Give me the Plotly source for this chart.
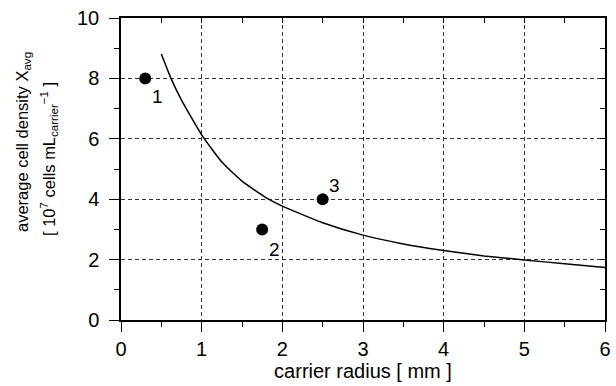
import plotly.graph_objects as go

# model curve
curve_x = [0.5, 0.62, 0.75, 1.0, 1.25, 1.5, 1.83, 2.0, 2.5, 3.0, 3.5, 4.0, 4.5, 5.0, 5.5, 6.0]
curve_y = [8.81, 8.0, 7.28, 6.13, 5.23, 4.60, 4.0, 3.77, 3.22, 2.81, 2.52, 2.30, 2.12, 1.99, 1.86, 1.74]

# experimental points
pt_x = [0.3, 1.75, 2.5]
pt_y = [8.0, 3.0, 4.0]
pt_labels = ["1", "2", "3"]

x_ticks = [0, 1, 2, 3, 4, 5, 6]
y_ticks = [0, 2, 4, 6, 8, 10]

y_title_1 = "average cell density X<sub>avg</sub>"
y_title_2 = "[ 10<sup>7</sup> cells mL<sub>carrier</sub><sup>−1</sup> ]"
x_title = "carrier radius [ mm ]"

FONT = "Liberation Sans, Arial, Helvetica, sans-serif"

fig = go.Figure()
fig.add_trace(go.Scatter(x=curve_x, y=curve_y, mode="lines",
                         line=dict(color="black", width=1.5, shape="spline", smoothing=0.5),
                         showlegend=False, hoverinfo="skip"))
fig.add_trace(go.Scatter(x=pt_x, y=pt_y, mode="markers",
                         marker=dict(color="black", size=12),
                         showlegend=False))
# invisible trace on the mirror axes
fig.add_trace(go.Scatter(x=[None], y=[None], xaxis="x2", yaxis="y2",
                         mode="markers", showlegend=False))

shifts = [(12, -18), (12, -20), (12, 14)]
for xv, yv, t, (dx, dy) in zip(pt_x, pt_y, pt_labels, shifts):
    fig.add_annotation(x=xv, y=yv, text=t, showarrow=False, xshift=dx, yshift=dy,
                       font=dict(family=FONT, size=19, color="black"))

# y-axis title as two rotated lines
fig.add_annotation(xref="paper", yref="paper", x=0, y=0.5, xshift=-98, yshift=27,
                   xanchor="center", yanchor="middle",
                   text=y_title_1, textangle=-90, showarrow=False,
                   font=dict(family=FONT, size=16.5, color="black"))
fig.add_annotation(xref="paper", yref="paper", x=0, y=0.5, xshift=-72, yshift=10,
                   xanchor="center", yanchor="middle",
                   text=y_title_2, textangle=-90, showarrow=False,
                   font=dict(family=FONT, size=16.5, color="black"))

grid = dict(showgrid=True, gridcolor="#333333", gridwidth=1, griddash="4px,3px")

fig.update_layout(
    width=616, height=386,
    margin=dict(l=121, r=5, t=18, b=66),
    paper_bgcolor="white", plot_bgcolor="white",
    font=dict(family=FONT, size=20, color="black"),
    xaxis=dict(range=[0, 6], tickvals=x_ticks, ticks="outside", ticklen=10, tickwidth=1,
               tickcolor="black", showline=True, linecolor="black", linewidth=1.5,
               mirror=True, zeroline=False, tickfont=dict(size=20),
               minor=dict(dtick=0.5, ticks="outside", ticklen=5, tickcolor="black", showgrid=False),
               title=dict(text=x_title, font=dict(size=20), standoff=4),
               **grid),
    yaxis=dict(range=[0, 10], tickvals=y_ticks, ticks="outside", ticklen=10, tickwidth=1,
               tickcolor="black", showline=True, linecolor="black", linewidth=1.5,
               mirror=True, zeroline=False, tickfont=dict(size=20), ticklabelstandoff=6,
               minor=dict(dtick=1, ticks="outside", ticklen=5, tickcolor="black", showgrid=False),
               **grid),
    xaxis2=dict(overlaying="x", side="top", range=[0, 6], tickvals=x_ticks, ticks="inside",
                ticklen=5, tickcolor="black", showticklabels=False, showgrid=False, zeroline=False,
                minor=dict(dtick=0.5, ticks="inside", ticklen=5, tickcolor="black")),
    yaxis2=dict(overlaying="y", side="right", range=[0, 10], tickvals=y_ticks, ticks="inside",
                ticklen=5, tickcolor="black", showticklabels=False, showgrid=False, zeroline=False,
                minor=dict(dtick=1, ticks="inside", ticklen=5, tickcolor="black")),
)

fig.write_html("out.html")
